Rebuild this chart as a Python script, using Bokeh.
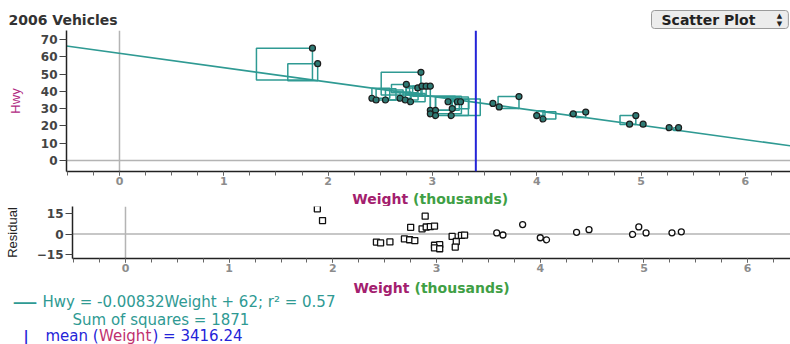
from bokeh.plotting import figure
from bokeh.layouts import column
from bokeh.models import Span, Label, FixedTicker, Range1d
from bokeh.embed import file_html
from bokeh.resources import INLINE

# ---------------- data ----------------
title_text = "2006 Vehicles"
weight_k = [1.85, 1.90, 2.42, 2.46, 2.55, 2.69, 2.74, 2.79, 2.75, 2.86, 2.90, 2.94,
            2.98, 2.89, 2.98, 3.03, 2.98, 3.03, 3.15, 3.19, 3.18, 3.24, 3.27, 3.58,
            3.64, 3.83, 4.00, 4.06, 4.35, 4.47, 4.89, 4.95, 5.02, 5.27, 5.36]
hwy = [65, 56, 36, 35, 35, 36, 35, 34, 44, 42, 43, 43,
       43, 51, 29, 29, 27, 26, 34, 30, 26, 34, 34, 33,
       31, 37, 26, 24, 27, 28, 21, 26, 21, 19, 19]
slope_per_lb = -0.00832
intercept = 62
r_squared = 0.57
sum_of_squares = 1871
mean_weight = 3416.24
x_ticks = [0, 1, 2, 3, 4, 5, 6]
hwy_ticks = [0, 10, 20, 30, 40, 50, 60, 70]
res_ticks = [-15, 0, 15]

# ---------------- derived ----------------
TEAL = "#2f9a93"
BLUE = "#2424d8"
MAGENTA = "#a3206e"
GREEN = "#3f9f45"
slope_k = slope_per_lb * 1000
fit = [intercept + slope_k * w for w in weight_k]
resid = [h - f for h, f in zip(hwy, fit)]
K = 0.0292  # square width (thousands) per unit of residual, so it looks square on screen
sq_left = [w - K * r if r > 0 else w for w, r in zip(weight_k, resid)]
sq_right = [w if r > 0 else w - K * r for w, r in zip(weight_k, resid)]
sq_bottom = [min(h, f) for h, f in zip(hwy, fit)]
sq_top = [max(h, f) for h, f in zip(hwy, fit)]
minor_x = [i / 4 for i in range(-2, 26)]

FONT = "DejaVu Sans"
W = 790


def strip(h):
    s = figure(width=W, height=h, x_range=Range1d(0, W), y_range=Range1d(h, 0),
               output_backend="svg", toolbar_location=None, title=None,
               x_axis_location=None, y_axis_location=None, min_border=0, frame_align=False)
    s.outline_line_color = None
    s.grid.visible = False
    s.background_fill_color = "white"
    s.border_fill_color = "white"
    return s


def txt(fig, x, y, text, color, size="15px", style="normal", align="left", font=FONT, **kw):
    fig.add_layout(Label(x=x, y=y, text=text, text_font=font, text_font_size=size,
                         text_font_style=style, text_color=color, text_align=align,
                         text_baseline="middle", **kw))


def style_common(p):
    p.outline_line_color = None
    p.grid.visible = False
    p.background_fill_color = "white"
    p.border_fill_color = "white"
    for ax in (p.xaxis[0], p.yaxis[0]):
        ax.axis_line_color = "#222222"
        ax.axis_line_width = 1.5
        ax.major_tick_line_color = "#444444"
        ax.minor_tick_line_color = "#666666"
        ax.major_tick_in = 0
        ax.minor_tick_in = 0
        ax.major_label_text_font = FONT
        ax.major_label_text_font_style = "bold"
    p.xaxis.ticker = FixedTicker(ticks=x_ticks, minor_ticks=minor_x)
    p.xaxis.major_tick_out = 4
    p.xaxis.minor_tick_out = 4
    p.xaxis.major_label_text_font_size = "11px"
    p.xaxis.major_label_text_color = "#8c8c8c"
    p.xaxis.major_label_standoff = 1
    p.yaxis.major_tick_out = 7
    p.yaxis.minor_tick_out = 0
    p.yaxis.major_label_standoff = 2
    p.yaxis.major_label_text_font_size = "12px"
    p.yaxis.major_label_text_color = "#444444"


# ---------------- header (title + popup) : canvas y 0..30 ----------------
head = strip(30)
txt(head, 8, 19, title_text, "#333333", size="14px", style="bold")
txt(head, 651, 19, "Scatter Plot", "#222222", size="14px", style="bold",
    background_fill_color="#ececec", border_line_color="#9a9a9a",
    padding=(10, 33, 1, 1), border_radius=3)
txt(head, 779, 15, "▲", "#222222", size="7px", align="center")
txt(head, 779, 23, "▼", "#222222", size="7px", align="center")

# ---------------- main scatter : canvas y 30..190 ----------------
p1 = figure(width=W, height=160, x_range=Range1d(-0.508, 6.433), y_range=Range1d(-6.36, 75.2),
            output_backend="svg", toolbar_location=None, title=None, frame_align=False,
            min_border_left=66, min_border_right=0, min_border_top=0, min_border_bottom=19)
style_common(p1)
p1.yaxis.ticker = FixedTicker(ticks=hwy_ticks, minor_ticks=[])
p1.yaxis.axis_label = "Hwy"
p1.yaxis.axis_label_text_font = "Liberation Sans"
p1.yaxis.axis_label_text_font_style = "normal"
p1.yaxis.axis_label_text_font_size = "13px"
p1.yaxis.axis_label_text_color = "#b0287f"
p1.yaxis.axis_label_standoff = 15

p1.add_layout(Span(location=0, dimension="height", line_color="#b4b4b4", line_width=1.5, level="underlay"))
p1.add_layout(Span(location=0, dimension="width", line_color="#b4b4b4", line_width=1.5, level="underlay"))

p1.quad(left=sq_left, right=sq_right, bottom=sq_bottom, top=sq_top,
        fill_color=None, line_color=TEAL, line_width=1.5)
xl = [p1.x_range.start, p1.x_range.end]
p1.line(x=xl, y=[intercept + slope_k * x for x in xl], line_color=TEAL, line_width=1.6)
p1.scatter(x=weight_k, y=hwy, marker="circle", size=6, fill_color="#2e7a74", line_color="#1c1c1c", line_width=1.2)
p1.add_layout(Span(location=mean_weight / 1000, dimension="height", line_color=BLUE, line_width=2))

# ---------------- axis title strip : canvas y 190..206 ----------------
ax1 = strip(16)
txt(ax1, 407.7, 8, "Weight", MAGENTA, size="14px", style="bold", align="right")
txt(ax1, 412.6, 8, "(thousands)", GREEN, size="14px", style="bold")

# ---------------- residual plot : canvas y 206..278 ----------------
p2 = figure(width=W, height=72, x_range=Range1d(-0.511, 6.413), y_range=Range1d(-17.9, 20.1),
            output_backend="svg", toolbar_location=None, title=None, frame_align=False,
            min_border_left=72, min_border_right=0, min_border_top=0, min_border_bottom=20)
style_common(p2)
p2.yaxis.ticker = FixedTicker(ticks=res_ticks, minor_ticks=[])
p2.yaxis.axis_label = "Residual"
p2.yaxis.axis_label_text_font = "Liberation Sans"
p2.yaxis.axis_label_text_font_style = "normal"
p2.yaxis.axis_label_text_font_size = "13px"
p2.yaxis.axis_label_text_color = "#222222"
p2.yaxis.axis_label_standoff = 14

p2.add_layout(Span(location=0, dimension="height", line_color="#b4b4b4", line_width=1.5, level="underlay"))
p2.add_layout(Span(location=0, dimension="width", line_color="#b4b4b4", line_width=1.5, level="underlay"))

w_lo = [w for w in weight_k if w < 3.5]
r_lo = [r for w, r in zip(weight_k, resid) if w < 3.5]
w_hi = [w for w in weight_k if w >= 3.5]
r_hi = [r for w, r in zip(weight_k, resid) if w >= 3.5]
p2.scatter(x=w_lo, y=r_lo, marker="square", size=6, fill_color="white", line_color="#111111", line_width=1.3)
p2.scatter(x=w_hi, y=r_hi, marker="circle", size=6, fill_color="white", line_color="#111111", line_width=1.3)

# ---------------- axis title + legend strip : canvas y 278..344 ----------------
T = 278
leg = strip(344 - T)
txt(leg, 409, 287 - T, "Weight", MAGENTA, size="14px", style="bold", align="right")
txt(leg, 414, 287 - T, "(thousands)", GREEN, size="14px", style="bold")

eq_text = f"Hwy = {slope_per_lb:g}Weight + {intercept}; r² = {r_squared:g}"
txt(leg, 12, 301 - T, "—", TEAL, size="25px")
txt(leg, 42, 301 - T, eq_text, TEAL)
txt(leg, 72, 319 - T, f"Sum of squares = {sum_of_squares}", TEAL)
txt(leg, 23, 335 - T, "|", BLUE, size="14px", style="bold")
txt(leg, 45, 335 - T, "mean (", BLUE)
txt(leg, 98.5, 335 - T, "Weight", "#c0306e")
txt(leg, 152, 335 - T, f") = {mean_weight:.2f}", BLUE)

layout = column(head, p1, ax1, p2, leg, spacing=0)
open("out.html", "w").write(file_html(layout, INLINE))
